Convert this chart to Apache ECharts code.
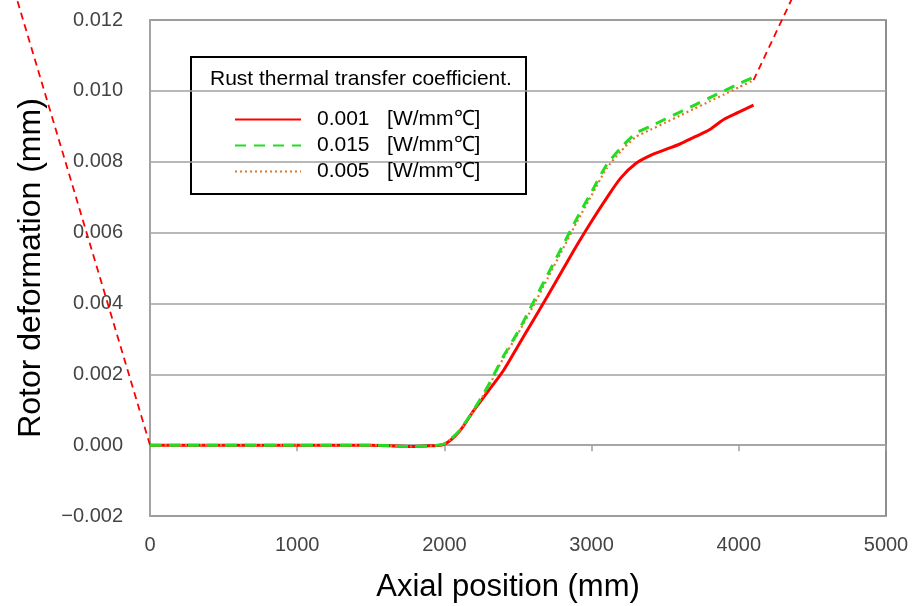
<!DOCTYPE html>
<html>
<head>
<meta charset="utf-8">
<script src="https://cdn.jsdelivr.net/npm/echarts@6/dist/echarts.min.js"></script>
<style>html,body{margin:0;padding:0;background:#fff;}#c{width:914px;height:606px;}</style>
</head>
<body>
<div id="c"></div>
<script>
// Axial positions (mm)
var xs = [0, 500, 1000, 1500, 1700, 1800, 1900, 2000, 2100, 2200, 2300, 2400, 2500, 2600, 2700, 2800, 2900, 3000, 3100, 3200, 3300, 3400, 3500, 3600, 3700, 3800, 3900, 4000, 4100];
// Rotor deformation (mm) for each rust thermal transfer coefficient
var def001 = [0, 0, 0, 0, -0.00003, -0.00004, -0.00002, 0.00003, 0.00038, 0.00098, 0.00154, 0.0021, 0.0028, 0.0035, 0.0042, 0.00492, 0.00564, 0.00632, 0.00696, 0.00755, 0.00795, 0.00818, 0.00834, 0.0085, 0.0087, 0.0089, 0.0092, 0.0094, 0.0096];
var def015 = [0, 0, 0, 0, -0.00003, -0.00004, -0.00002, 0.00004, 0.0004, 0.001, 0.0017, 0.0025, 0.0032, 0.004, 0.0048, 0.0056, 0.0064, 0.00715, 0.0079, 0.0084, 0.0088, 0.009, 0.0092, 0.0094, 0.0096, 0.0098, 0.01, 0.0102, 0.01038];
var def005 = [0, 0, 0, 0, -0.00003, -0.00004, -0.00002, 0.00004, 0.00039, 0.00098, 0.00165, 0.00245, 0.00315, 0.0039, 0.0047, 0.0055, 0.0063, 0.00705, 0.0078, 0.0083, 0.0087, 0.0089, 0.0091, 0.0093, 0.0095, 0.0097, 0.0099, 0.0101, 0.0103];
// Guide lines (dashed, extending outside the plot)
var guideLeft = [[-970, 0.0135], [0, 0]];
var guideRight = [[4100, 0.0103], [4463, 0.0135]];
var legendNames = ['0.001   [W/mm℃]', '0.015   [W/mm℃]', '0.005   [W/mm℃]'];
var xTicks = [0, 1000, 2000, 3000, 4000, 5000];
var yTicks = [-0.002, 0, 0.002, 0.004, 0.006, 0.008, 0.01, 0.012];

function pairs(x, y) { return x.map(function (v, i) { return [v, y[i]]; }); }

function guideSeries(name, pts) {
  return {
    name: name, type: 'custom', clip: false, z: 4, silent: true,
    data: [0],
    renderItem: function (params, api) {
      var p = pts.map(function (d) { return api.coord(d); });
      return {type: 'polyline', shape: {points: p},
        style: {stroke: '#ff0000', lineWidth: 1.8, lineDash: [7, 5], fill: null}};
    }
  };
}

var chart = echarts.init(document.getElementById('c'), null, {renderer: 'canvas'});
var font = 'Liberation Sans, Arial, sans-serif';
chart.setOption({
  animation: false,
  backgroundColor: '#fff',
  grid: {left: 150, right: 28, top: 20, bottom: 90, show: true, borderColor: '#6a6a6a', borderWidth: 1.5,
    backgroundColor: 'transparent', containLabel: false, outerBoundsMode: 'none'},
  xAxis: [{
    type: 'value', min: xTicks[0], max: xTicks[xTicks.length - 1], interval: 1000,
    axisLine: {show: false, onZero: false},
    axisTick: {show: false},
    splitLine: {show: false},
    axisLabel: {color: '#444', fontSize: 20, fontFamily: font, margin: 19,
      formatter: function (v) { return String(v); }},
    name: 'Axial position (mm)', nameLocation: 'middle', nameGap: 56,
    nameTextStyle: {color: '#000', fontSize: 31, fontFamily: font, padding: [0, 20, 0, 0]}
  }, {
    type: 'value', min: xTicks[0], max: xTicks[xTicks.length - 1], interval: 1000, position: 'bottom',
    axisLine: {show: true, onZero: true, lineStyle: {color: '#a0a0a0', width: 1.5}},
    axisTick: {show: true, length: 6, lineStyle: {color: '#a0a0a0', width: 1.5}},
    axisLabel: {show: false}, splitLine: {show: false}
  }],
  yAxis: {
    type: 'value', min: yTicks[0], max: yTicks[yTicks.length - 1], interval: 0.002,
    axisLine: {show: true, onZero: false, lineStyle: {color: '#aaaaaa', width: 1.5}},
    axisTick: {show: false},
    splitLine: {show: true, lineStyle: {color: '#a0a0a0', width: 1.5}},
    axisLabel: {color: '#444', fontSize: 20, fontFamily: font, margin: 27,
      formatter: function (v) { return v.toFixed(3).replace('-', '\u2212'); }},
    name: 'Rotor deformation (mm)', nameLocation: 'middle', nameGap: 103,
    nameTextStyle: {color: '#000', fontSize: 32, fontFamily: font}
  },
  legend: {
    orient: 'vertical', left: 229, top: 104, itemWidth: 66, itemHeight: 14, itemGap: 5,
    itemStyle: {opacity: 0},
    textStyle: {color: '#000', fontSize: 21, fontFamily: font, padding: [0, 0, 0, 11]},
    data: legendNames.map(function (n) { return {name: n}; })
  },
  graphic: [
    {type: 'rect', shape: {x: 191, y: 57, width: 335, height: 137}, style: {fill: '#fff', stroke: '#000', lineWidth: 2}, z: 0},
    {type: 'text', left: 210, top: 69, style: {text: 'Rust thermal transfer coefficient.', fill: '#000', font: '21px ' + font}, z: 1}
  ],
  series: [
    {name: legendNames[0], type: 'line', data: pairs(xs, def001), symbol: 'none', smooth: 0.3, z: 5,
      lineStyle: {color: '#ff0000', width: 3, type: 'solid'}, itemStyle: {color: '#ff0000'}},
    {name: legendNames[2], type: 'line', data: pairs(xs, def005), symbol: 'none', smooth: 0.2, z: 6,
      lineStyle: {color: '#e0782c', width: 2.2, type: [2, 3]}, itemStyle: {color: '#e0782c'}},
    {name: legendNames[1], type: 'line', data: pairs(xs, def015), symbol: 'none', smooth: 0.2, z: 7,
      lineStyle: {color: '#22dd22', width: 3, type: [11, 8]}, itemStyle: {color: '#22dd22'}},
    guideSeries('guideL', guideLeft),
    guideSeries('guideR', guideRight)
  ]
});
</script>
</body>
</html>
